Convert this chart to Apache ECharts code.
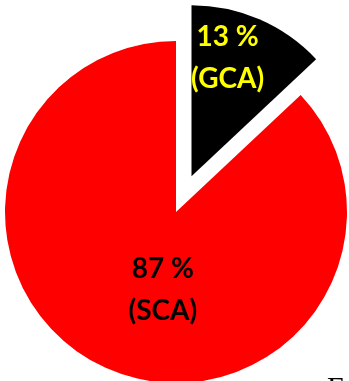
<!DOCTYPE html>
<html>
<head>
<meta charset="utf-8">
<script src="https://cdn.jsdelivr.net/npm/echarts@6/dist/echarts.min.js"></script>
<style>
  html, body { margin: 0; padding: 0; background: #ffffff; }
  #chart { width: 349px; height: 381px; }
</style>
</head>
<body>
<div id="chart"></div>
<script>
// Share of the two groups
const categories = ['GCA', 'SCA'];
const shares = [13, 87];
const sliceColors = ['#000000', '#ff0000'];
const labelColors = ['#ffff00', '#000000'];
const labelOffsets = [[1, -37], [22, -3]];
const pulledOut = ['GCA'];

const chart = echarts.init(document.getElementById('chart'), null, { renderer: 'canvas' });

const data = categories.map((name, i) => {
  const label = { color: labelColors[i], offset: labelOffsets[i] };
  return {
    name: name,
    value: shares[i],
    selected: pulledOut.includes(name),
    itemStyle: { color: sliceColors[i] },
    label: label,
    select: { itemStyle: { color: sliceColors[i] }, label: label }
  };
});

chart.setOption({
  animation: false,
  backgroundColor: '#ffffff',
  series: [{
    type: 'pie',
    center: [176, 212],
    radius: 171,
    startAngle: 90,
    clockwise: true,
    selectedMode: 'single',
    selectedOffset: 39,
    avoidLabelOverlap: false,
    emphasis: { disabled: true },
    itemStyle: { borderWidth: 0 },
    label: {
      show: true,
      position: 'inside',
      formatter: '{c} %\n({b})',
      fontFamily: 'Lato',
      fontWeight: 'bold',
      fontSize: 28,
      lineHeight: 42,
      align: 'center'
    },
    labelLine: { show: false },
    data: data
  }],
  graphic: [{
    type: 'text',
    left: 327,
    top: 374,
    style: {
      text: 'F',
      font: '30px "Liberation Serif"',
      fill: '#000000'
    }
  }]
});
</script>
</body>
</html>
